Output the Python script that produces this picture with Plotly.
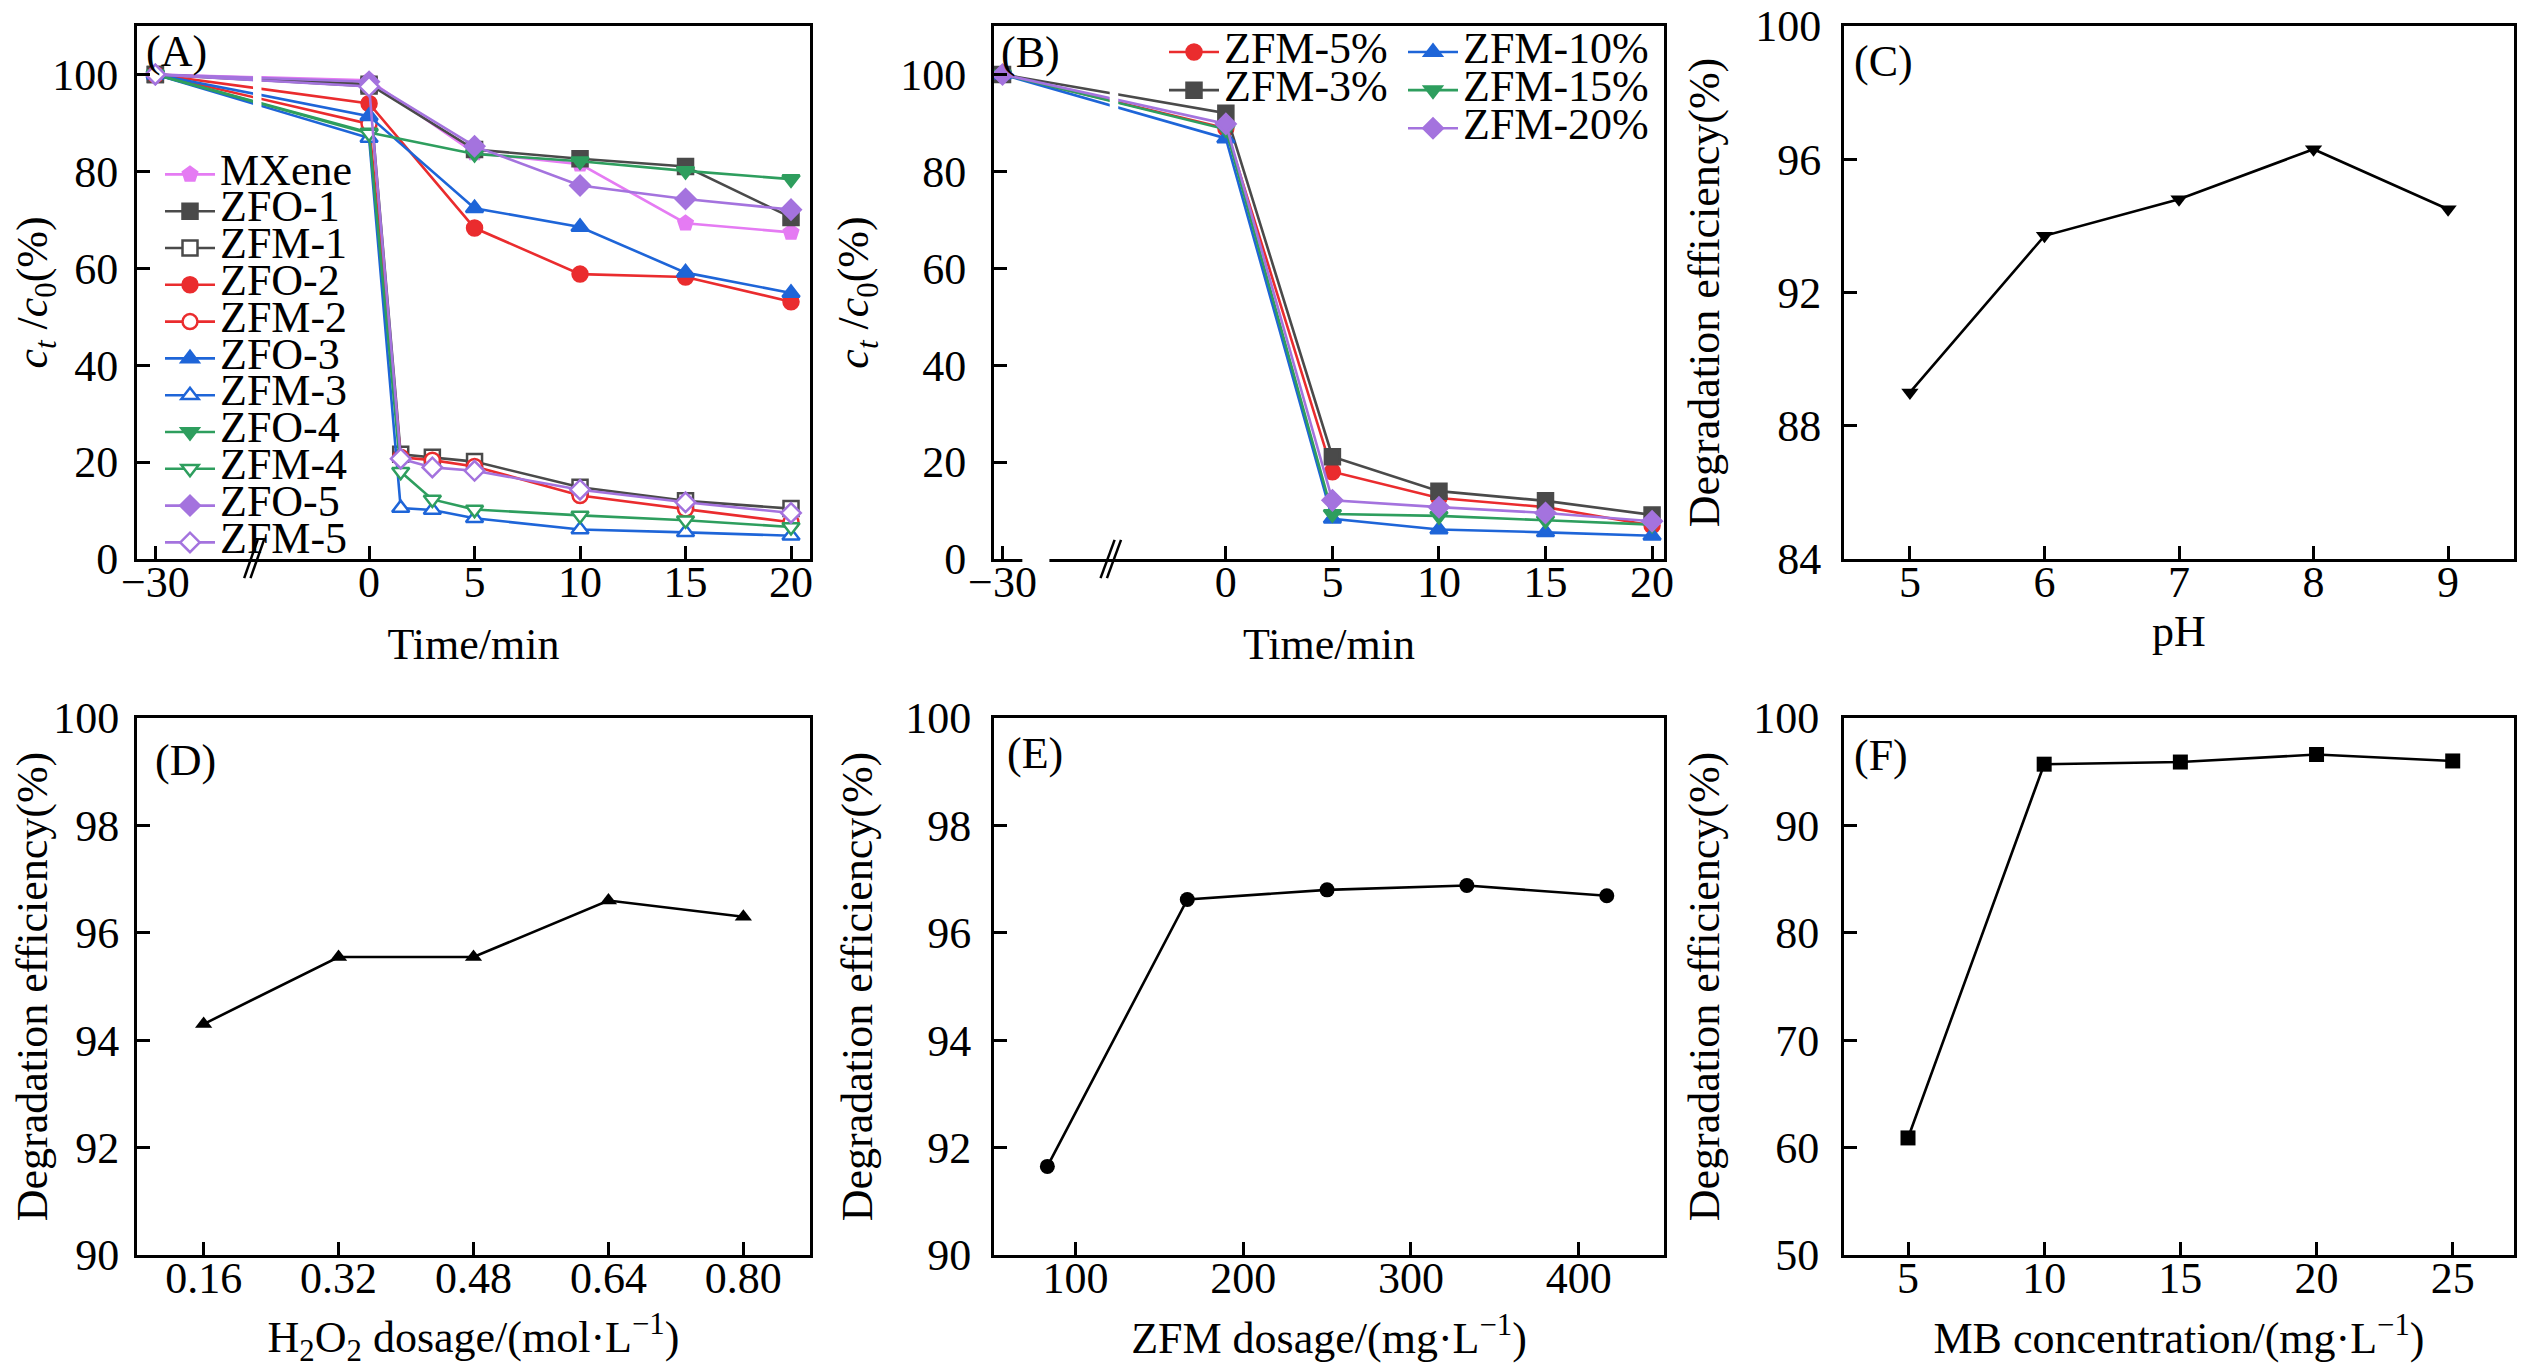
import plotly.graph_objects as go
from plotly.subplots import make_subplots

# ---------- data ----------
# (A) adsorption / degradation curves
t_zfo = [-30, 0, 5, 10, 15, 20]
t_zfm = [-30, 0, 1.5, 3, 5, 10, 15, 20]

mxene = [100, 98.8, 83.8, 81.5, 69.3, 67.4]
zfo_1 = [100, 98.0, 84.5, 82.6, 81.0, 70.5]
zfm_1 = [100, 97.6, 21.6, 21.0, 20.1, 14.8, 12.0, 10.4]
zfo_2 = [100, 94.0, 68.3, 58.8, 58.2, 53.1]
zfm_2 = [100, 89.8, 21.0, 20.4, 19.1, 13.1, 10.3, 7.6]
zfo_3 = [100, 91.4, 72.4, 68.5, 59.1, 54.9]
zfm_3 = [100, 86.9, 10.5, 10.1, 8.4, 6.1, 5.5, 4.8]
zfo_4 = [100, 88.0, 83.6, 82.1, 80.1, 78.4]
zfm_4 = [100, 87.8, 18.0, 12.3, 10.2, 9.0, 8.0, 6.6]
zfo_5 = [100, 98.5, 85.2, 77.1, 74.3, 72.1]
zfm_5 = [100, 97.5, 20.7, 18.9, 18.2, 14.3, 11.7, 9.5]

# (B) MXene loading
t_b = [-30, 0, 5, 10, 15, 20]
zfm_5pct = [100, 88.9, 18.0, 12.6, 10.7, 6.9]
zfm_3pct = [100, 92.0, 21.1, 14.0, 12.0, 9.1]
zfm_10pct = [100, 86.8, 8.3, 6.1, 5.5, 4.8]
zfm_15pct = [100, 88.7, 9.3, 8.9, 8.0, 7.1]
zfm_20pct = [100, 89.8, 12.1, 10.7, 9.5, 7.8]

# (C) pH
ph = [5, 6, 7, 8, 9]
eff_ph = [89.0, 93.7, 94.8, 96.3, 94.5]

# (D) H2O2 dosage
h2o2 = [0.16, 0.32, 0.48, 0.64, 0.80]
eff_h2o2 = [94.3, 95.55, 95.55, 96.6, 96.3]

# (E) catalyst dosage
zfm_dose = [83.3, 166.7, 250.0, 333.3, 416.7]
eff_dose = [91.65, 96.62, 96.8, 96.88, 96.69]

# (F) MB concentration
mb_conc = [5, 10, 15, 20, 25]
eff_mb = [60.9, 95.7, 95.9, 96.6, 96.0]

time_ticks = [-30, 0, 5, 10, 15, 20]

FONT = "Liberation Serif"
FS = 44

# broken time axis: -30 min is drawn closer to 0
def squeeze(ts, pos30):
    return [pos30 if t == -30 else t for t in ts]

BRK_A = -10.13
BRK_B = -10.48

fig = make_subplots(rows=2, cols=3)

def leg_name(s):
    # big text, but the legend keeps its tight row spacing
    return '<span style="font-size:%dpx">%s</span>' % (FS, s)

def add_series(x, y, name, color, symbol, filled, row, col, legend):
    fig.add_trace(go.Scatter(
        x=x, y=y, name=leg_name(name), mode="lines+markers",
        line=dict(color=color, width=2.6),
        marker=dict(symbol=symbol, size=15,
                    color=color if filled else "white",
                    line=dict(color=color, width=2.5)),
        legend=legend), row=row, col=col)

C_MX = "#E57BF3"
C_1 = "#4A4A4A"
C_2 = "#EA2C2E"
C_3 = "#1E65D8"
C_4 = "#2E9E5E"
C_5 = "#A473DE"

# panel A
xa_zfo = squeeze(t_zfo, BRK_A)
xa_zfm = squeeze(t_zfm, BRK_A)
add_series(xa_zfo, mxene, "MXene", C_MX, "pentagon", True, 1, 1, "legend")
add_series(xa_zfo, zfo_1, "ZFO-1", C_1, "square", True, 1, 1, "legend")
add_series(xa_zfm, zfm_1, "ZFM-1", C_1, "square", False, 1, 1, "legend")
add_series(xa_zfo, zfo_2, "ZFO-2", C_2, "circle", True, 1, 1, "legend")
add_series(xa_zfm, zfm_2, "ZFM-2", C_2, "circle", False, 1, 1, "legend")
add_series(xa_zfo, zfo_3, "ZFO-3", C_3, "triangle-up", True, 1, 1, "legend")
add_series(xa_zfm, zfm_3, "ZFM-3", C_3, "triangle-up", False, 1, 1, "legend")
add_series(xa_zfo, zfo_4, "ZFO-4", C_4, "triangle-down", True, 1, 1, "legend")
add_series(xa_zfm, zfm_4, "ZFM-4", C_4, "triangle-down", False, 1, 1, "legend")
add_series(xa_zfo, zfo_5, "ZFO-5", C_5, "diamond", True, 1, 1, "legend")
add_series(xa_zfm, zfm_5, "ZFM-5", C_5, "diamond", False, 1, 1, "legend")

# panel B
xb = squeeze(t_b, BRK_B)
add_series(xb, zfm_5pct, "ZFM-5%", C_2, "circle", True, 1, 2, "legend2")
add_series(xb, zfm_3pct, "ZFM-3%", C_1, "square", True, 1, 2, "legend2")
add_series(xb, zfm_10pct, "ZFM-10%", C_3, "triangle-up", True, 1, 2, "legend3")
add_series(xb, zfm_15pct, "ZFM-15%", C_4, "triangle-down", True, 1, 2, "legend3")
add_series(xb, zfm_20pct, "ZFM-20%", C_5, "diamond", True, 1, 2, "legend3")

# panels C-F, black single series
def add_black(x, y, symbol, row, col):
    fig.add_trace(go.Scatter(x=x, y=y, mode="lines+markers", showlegend=False,
                             line=dict(color="black", width=2.6),
                             marker=dict(symbol=symbol, size=15, color="black")),
                  row=row, col=col)

add_black(ph, eff_ph, "triangle-down", 1, 3)
add_black(h2o2, eff_h2o2, "triangle-up", 2, 1)
add_black(zfm_dose, eff_dose, "circle", 2, 2)
add_black(mb_conc, eff_mb, "square", 2, 3)

W, H = 2526, 1368
xdom = [[129 / W, 802 / W], [986 / W, 1656 / W], [1836 / W, 2506 / W]]
ydom = [[1 - 551 / H, 1 - 18 / H], [1 - 1247 / H, 1 - 710 / H]]

axis_style = dict(showline=True, linewidth=3, linecolor="black", mirror=True,
                  ticks="inside", ticklen=13, tickwidth=3, tickcolor="black",
                  showgrid=False, zeroline=False, automargin=False,
                  ticklabeloverflow="allow",
                  tickfont=dict(family=FONT, size=FS, color="black"))

for r in (1, 2):
    for c in (1, 2, 3):
        fig.update_xaxes(domain=xdom[c - 1], row=r, col=c, ticklabelstandoff=-18, **axis_style)
        fig.update_yaxes(domain=ydom[r - 1], row=r, col=c, **axis_style)

ct_title = "<i>c</i><sub><i>t</i></sub> /<i>c</i><sub>0</sub>(%)"
deg_title = "Degradation efficiency(%)"
tfont = dict(family=FONT, size=FS, color="black")

# time axes with a break between -30 and 0
fig.update_xaxes(range=[-11.0, 20.9], tickvals=[BRK_A, 0, 5, 10, 15, 20],
                 ticktext=["\u221230" if t == -30 else str(t) for t in time_ticks],
                 title=dict(text="Time/min", font=tfont, standoff=23), row=1, col=1)
fig.update_xaxes(range=[-10.88, 20.56], tickvals=[BRK_B, 0, 5, 10, 15, 20],
                 ticktext=["\u221230" if t == -30 else str(t) for t in time_ticks],
                 title=dict(text="Time/min", font=tfont, standoff=23), row=1, col=2)
fig.update_yaxes(range=[0, 110], tickvals=[0, 20, 40, 60, 80, 100], ticklabelstandoff=7,
                 title=dict(text=ct_title, font=tfont, standoff=25), row=1, col=1)
fig.update_yaxes(range=[0, 110], tickvals=[0, 20, 40, 60, 80, 100], ticklabelstandoff=16,
                 title=dict(text=ct_title, font=tfont, standoff=18), row=1, col=2)

fig.update_xaxes(range=[4.51, 9.49], dtick=1,
                 title=dict(text="pH", font=tfont, standoff=10), row=1, col=3)
fig.update_yaxes(range=[84, 100], dtick=4, ticklabelstandoff=11,
                 title=dict(text=deg_title, font=tfont, standoff=22), row=1, col=3)

fig.update_xaxes(range=[0.081, 0.879], tickvals=h2o2, tickformat=".2f",
                 title=dict(text="H<sub>2</sub>O<sub>2</sub> dosage/(mol\u00b7L<sup>\u22121</sup>)",
                            font=tfont, standoff=20), row=2, col=1)
fig.update_yaxes(range=[90, 100], dtick=2, ticklabelstandoff=6,
                 title=dict(text=deg_title, font=tfont, standoff=28), row=2, col=1)

fig.update_xaxes(range=[51.5, 450.8], tickvals=[100, 200, 300, 400],
                 title=dict(text="ZFM dosage/(mg\u00b7L<sup>\u22121</sup>)", font=tfont, standoff=21),
                 row=2, col=2)
fig.update_yaxes(range=[90, 100], dtick=2, ticklabelstandoff=11,
                 title=dict(text=deg_title, font=tfont, standoff=19), row=2, col=2)

fig.update_xaxes(range=[2.65, 27.25], dtick=5,
                 title=dict(text="MB concentration/(mg\u00b7L<sup>\u22121</sup>)", font=tfont, standoff=21),
                 row=2, col=3)
fig.update_yaxes(range=[50, 100], dtick=10, ticklabelstandoff=13,
                 title=dict(text=deg_title, font=tfont, standoff=20), row=2, col=3)

# panel letters
letters = [("(A)", "x", "y", 0.01, 0.953), ("(B)", "x2", "y2", 0.008, 0.95),
           ("(C)", "x3", "y3", 0.012, 0.933), ("(D)", "x4", "y4", 0.024, 0.92),
           ("(E)", "x5", "y5", 0.016, 0.933), ("(F)", "x6", "y6", 0.012, 0.93)]
for txt, xr, yr, ax, ay in letters:
    fig.add_annotation(text=txt, xref=xr + " domain", yref=yr + " domain", x=ax, y=ay,
                       xanchor="left", yanchor="middle", showarrow=False, font=tfont)

# axis break: white gap through the lines and // marks on the axis
for xr, yr, xb0, dx in [("x", "y", -5.3, 0.64), ("x2", "y2", -5.25, 0.66)]:
    fig.add_shape(type="rect", xref=xr, yref=yr, x0=xb0 - 0.2, x1=xb0 + 0.2, y0=88, y1=101,
                  fillcolor="white", line=dict(width=0), layer="above")
    for off in (-0.3, 0.0):
        fig.add_shape(type="line", xref=xr, yref=yr + " domain",
                      x0=xb0 + off - dx / 2, x1=xb0 + off + dx / 2, y0=-0.036, y1=0.036,
                      line=dict(color="black", width=2.5), layer="above")
# small gap in the bottom axis line of (B)
fig.add_shape(type="rect", xref="x2", yref="y2 domain", x0=-9.55, x1=-8.28, y0=-0.006, y1=0.006,
              fillcolor="white", line=dict(width=0), layer="above")

leg_common = dict(bgcolor="rgba(0,0,0,0)", borderwidth=0, xanchor="left", yanchor="top",
                  tracegroupgap=0, itemclick=False, itemwidth=50)
fig.update_layout(
    width=W, height=H,
    margin=dict(l=0, r=0, t=0, b=0),
    paper_bgcolor="white", plot_bgcolor="white",
    font=dict(family=FONT, size=FS, color="black"),
    legend=dict(x=152 / W, y=1 - 143 / H, font=dict(family=FONT, size=26), **leg_common),
    legend2=dict(x=1156 / W, y=1 - 20 / H, font=dict(family=FONT, size=27), **leg_common),
    legend3=dict(x=1395 / W, y=1 - 20 / H, font=dict(family=FONT, size=27), **leg_common),
)

fig.write_html("out.html")
